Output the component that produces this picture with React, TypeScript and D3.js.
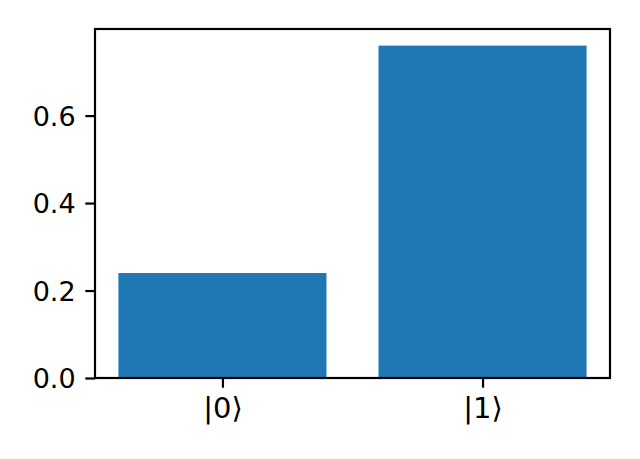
import React, { useEffect, useRef } from "react";
import * as d3 from "d3";

const states = ["|0⟩", "|1⟩"];
const probabilities = [0.24, 0.76];
const yTicks = [0.0, 0.2, 0.4, 0.6];

const W = 640;
const H = 459;
const margin = { top: 29, right: 30, bottom: 81, left: 95 };

export default function App() {
  const svgRef = useRef<SVGSVGElement | null>(null);

  useEffect(() => {
    const svg = d3.select(svgRef.current);
    svg.selectAll("*").remove();

    const innerW = W - margin.left - margin.right;
    const innerH = H - margin.top - margin.bottom;

    // matplotlib-like limits: bars of width 0.8 at 0..n-1, 5% margins
    const n = states.length;
    const lo = -0.4, hi = n - 1 + 0.4;
    const pad = (hi - lo) * 0.05;
    const x = d3.scaleLinear().domain([lo - pad, hi + pad]).range([0, innerW]);
    const y = d3
      .scaleLinear()
      .domain([0, d3.max(probabilities)! * 1.05])
      .range([innerH, 0]);

    const g = svg.append("g").attr("transform", `translate(${margin.left},${margin.top})`);

    g.selectAll("rect.bar")
      .data(probabilities)
      .enter()
      .append("rect")
      .attr("class", "bar")
      .attr("x", (d, i) => x(i - 0.4))
      .attr("width", x(0.8) - x(0))
      .attr("y", d => y(d))
      .attr("height", d => innerH - y(d))
      .attr("fill", "#1f77b4");

    const font = "DejaVu Sans, sans-serif";
    const tickLen = 9.7;

    const yAxis = d3
      .axisLeft(y)
      .tickValues(yTicks)
      .tickFormat(d3.format(".1f"))
      .tickSize(tickLen)
      .tickPadding(9.7);
    const ya = g.append("g").call(yAxis);
    ya.select(".domain").remove();
    ya.selectAll("line").attr("stroke", "#000").attr("stroke-width", 2.2);
    ya.selectAll("text")
      .attr("font-family", font)
      .attr("font-size", 27)
      .attr("fill", "#000")
      .attr("dy", "0.36em");

    const xAxis = d3
      .axisBottom(x)
      .tickValues(d3.range(n))
      .tickFormat((d, i) => states[i])
      .tickSize(tickLen)
      .tickPadding(8);
    const xa = g.append("g").attr("transform", `translate(0,${innerH})`).call(xAxis);
    xa.select(".domain").remove();
    xa.selectAll("line").attr("stroke", "#000").attr("stroke-width", 2.2);
    xa.selectAll("text")
      .attr("font-family", font)
      .attr("font-size", 29)
      .attr("fill", "#000")
      .attr("dy", "0.76em");

    // frame
    g.append("rect")
      .attr("x", 0)
      .attr("y", 0)
      .attr("width", innerW)
      .attr("height", innerH)
      .attr("fill", "none")
      .attr("stroke", "#000")
      .attr("stroke-width", 2.2);
  }, []);

  return (
    <svg
      ref={svgRef}
      width={W}
      height={H}
      style={{ position: "fixed", left: 0, top: 0, background: "#fff" }}
    />
  );
}
